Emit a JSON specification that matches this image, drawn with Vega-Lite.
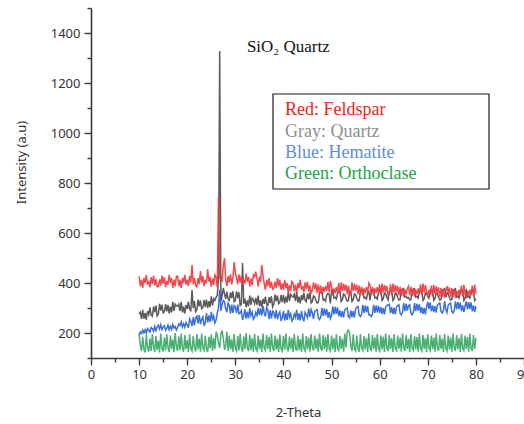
{
  "$schema": "https://vega.github.io/schema/vega-lite/v6.json",
  "width": 433,
  "height": 350,
  "autosize": {"type": "none"},
  "padding": {"left": 91, "top": 8, "right": 0, "bottom": 66},
  "background": "white",
  "config": {
    "view": {"stroke": null},
    "axis": {
      "domainColor": "#3a3a3a", "domainWidth": 1.6,
      "tickColor": "#3a3a3a", "tickWidth": 1.4,
      "labelFont": "Noto Sans", "labelFontSize": 13, "labelColor": "#333333",
      "titleFont": "Noto Sans", "titleFontSize": 13, "titleFontWeight": "normal", "titleColor": "#333333",
      "grid": false, "labelOverlap": false, "labelFlush": false
    }
  },
  "resolve": {"axis": {"x": "independent", "y": "independent"}},
  "layer": [
    {
      "data": {"values": [
{"t":10,"R":427,"Q":276,"H":190,"O":198},{"t":10.25,"R":387,"Q":283,"H":204,"O":150},{"t":10.5,"R":413,"Q":256,"H":198,"O":128},{"t":10.75,"R":380,"Q":293,"H":212,"O":185},
{"t":11,"R":420,"Q":257,"H":200,"O":135},{"t":11.25,"R":400,"Q":280,"H":213,"O":122},{"t":11.5,"R":433,"Q":253,"H":199,"O":192},{"t":11.75,"R":393,"Q":287,"H":218,"O":140},
{"t":12,"R":408,"Q":274,"H":211,"O":125},{"t":12.25,"R":383,"Q":302,"H":204,"O":178},{"t":12.5,"R":423,"Q":272,"H":222,"O":128},{"t":12.75,"R":397,"Q":267,"H":217,"O":196},
{"t":13,"R":430,"Q":306,"H":207,"O":145},{"t":13.25,"R":390,"Q":283,"H":226,"O":124},{"t":13.5,"R":415,"Q":310,"H":209,"O":188},{"t":13.75,"R":385,"Q":268,"H":224,"O":132},
{"t":14,"R":385,"Q":275,"H":231,"O":170},{"t":14.25,"R":415,"Q":317,"H":216,"O":122},{"t":14.5,"R":390,"Q":290,"H":233,"O":198},{"t":14.75,"R":430,"Q":313,"H":214,"O":138},
{"t":15,"R":397,"Q":280,"H":224,"O":126},{"t":15.25,"R":423,"Q":285,"H":229,"O":182},{"t":15.5,"R":383,"Q":315,"H":211,"O":130},{"t":15.75,"R":408,"Q":287,"H":218,"O":195},
{"t":16,"R":393,"Q":312,"H":232,"O":142},{"t":16.25,"R":433,"Q":278,"H":213,"O":124},{"t":16.5,"R":400,"Q":305,"H":227,"O":190},{"t":16.75,"R":420,"Q":282,"H":214,"O":135},
{"t":17,"R":380,"Q":325,"H":234,"O":175},{"t":17.25,"R":413,"Q":288,"H":220,"O":123},{"t":17.5,"R":387,"Q":315,"H":226,"O":200},{"t":17.75,"R":427,"Q":308,"H":212,"O":145},
{"t":18,"R":427,"Q":308,"H":222,"O":128},{"t":18.25,"R":387,"Q":315,"H":236,"O":186},{"t":18.5,"R":413,"Q":288,"H":230,"O":132},{"t":18.75,"R":380,"Q":325,"H":245,"O":198},
{"t":19,"R":420,"Q":282,"H":224,"O":140},{"t":19.25,"R":400,"Q":305,"H":237,"O":125},{"t":19.5,"R":433,"Q":278,"H":223,"O":192},{"t":19.75,"R":393,"Q":312,"H":242,"O":136},
{"t":20,"R":413,"Q":297,"H":234,"O":172},{"t":20.25,"R":388,"Q":325,"H":220,"O":124},{"t":20.5,"R":428,"Q":295,"H":257,"O":195},{"t":20.75,"R":402,"Q":290,"H":247,"O":138},
{"t":21,"R":472,"Q":372,"H":227,"O":128},{"t":21.25,"R":395,"Q":300,"H":264,"O":188},{"t":21.5,"R":420,"Q":327,"H":230,"O":142},{"t":21.75,"R":390,"Q":285,"H":260,"O":126},
{"t":22,"R":384,"Q":292,"H":268,"O":196},{"t":22.25,"R":420,"Q":334,"H":238,"O":134},{"t":22.5,"R":395,"Q":307,"H":272,"O":178},{"t":22.75,"R":448,"Q":330,"H":235,"O":125},
{"t":23,"R":402,"Q":297,"H":255,"O":198},{"t":23.25,"R":428,"Q":302,"H":265,"O":140},{"t":23.5,"R":388,"Q":332,"H":228,"O":130},{"t":23.75,"R":413,"Q":304,"H":242,"O":190},
{"t":24,"R":398,"Q":334,"H":280,"O":136},{"t":24.25,"R":455,"Q":300,"H":242,"O":124},{"t":24.5,"R":405,"Q":327,"H":270,"O":185},{"t":24.75,"R":425,"Q":304,"H":244,"O":138},
{"t":25,"R":385,"Q":347,"H":285,"O":195},{"t":25.25,"R":418,"Q":310,"H":255,"O":128},{"t":25.5,"R":392,"Q":337,"H":268,"O":180},{"t":25.75,"R":432,"Q":330,"H":240,"O":135},
{"t":26,"R":422,"Q":343,"H":252,"O":205},{"t":26.25,"R":382,"Q":350,"H":280,"O":190},{"t":26.5,"R":744,"Q":420,"H":300,"O":160},{"t":26.75,"R":420,"Q":1328,"H":372,"O":140},
{"t":27,"R":425,"Q":327,"H":289,"O":195},{"t":27.25,"R":405,"Q":350,"H":315,"O":210},{"t":27.5,"R":470,"Q":380,"H":330,"O":180},{"t":27.75,"R":500,"Q":357,"H":325,"O":132},
{"t":28,"R":413,"Q":337,"H":297,"O":150},{"t":28.25,"R":388,"Q":365,"H":283,"O":205},{"t":28.5,"R":428,"Q":335,"H":320,"O":128},{"t":28.75,"R":402,"Q":330,"H":310,"O":190},
{"t":29,"R":435,"Q":363,"H":277,"O":134},{"t":29.25,"R":395,"Q":340,"H":314,"O":175},{"t":29.5,"R":420,"Q":367,"H":280,"O":125},{"t":29.75,"R":484,"Q":325,"H":310,"O":196},
{"t":30,"R":440,"Q":330,"H":305,"O":138},{"t":30.25,"R":420,"Q":367,"H":280,"O":128},{"t":30.5,"R":395,"Q":340,"H":314,"O":188},{"t":30.75,"R":435,"Q":363,"H":277,"O":130},
{"t":31,"R":402,"Q":310,"H":280,"O":198},{"t":31.25,"R":428,"Q":315,"H":290,"O":142},{"t":31.5,"R":388,"Q":480,"H":253,"O":125},{"t":31.75,"R":413,"Q":317,"H":267,"O":186},
{"t":32,"R":398,"Q":337,"H":295,"O":135},{"t":32.25,"R":438,"Q":303,"H":257,"O":200},{"t":32.5,"R":405,"Q":330,"H":285,"O":140},{"t":32.75,"R":425,"Q":307,"H":259,"O":128},
{"t":33,"R":385,"Q":350,"H":300,"O":192},{"t":33.25,"R":418,"Q":313,"H":270,"O":132},{"t":33.5,"R":392,"Q":340,"H":283,"O":180},{"t":33.75,"R":432,"Q":333,"H":255,"O":124},
{"t":34,"R":425,"Q":318,"H":262,"O":196},{"t":34.25,"R":445,"Q":340,"H":283,"O":138},{"t":34.5,"R":418,"Q":313,"H":270,"O":128},{"t":34.75,"R":385,"Q":350,"H":300,"O":190},
{"t":35,"R":425,"Q":307,"H":272,"O":135},{"t":35.25,"R":405,"Q":330,"H":298,"O":175},{"t":35.5,"R":472,"Q":303,"H":270,"O":124},{"t":35.75,"R":430,"Q":337,"H":308,"O":198},
{"t":36,"R":398,"Q":317,"H":280,"O":140},{"t":36.25,"R":373,"Q":345,"H":266,"O":130},{"t":36.5,"R":413,"Q":315,"H":303,"O":192},{"t":36.75,"R":387,"Q":310,"H":293,"O":136},
{"t":37,"R":420,"Q":343,"H":255,"O":185},{"t":37.25,"R":380,"Q":320,"H":292,"O":125},{"t":37.5,"R":405,"Q":347,"H":258,"O":198},{"t":37.75,"R":375,"Q":305,"H":288,"O":142},
{"t":38,"R":380,"Q":315,"H":283,"O":128},{"t":38.25,"R":405,"Q":354,"H":258,"O":190},{"t":38.5,"R":380,"Q":327,"H":292,"O":134},{"t":38.75,"R":420,"Q":350,"H":255,"O":178},
{"t":39,"R":387,"Q":317,"H":275,"O":124},{"t":39.25,"R":413,"Q":322,"H":285,"O":195},{"t":39.5,"R":373,"Q":352,"H":248,"O":138},{"t":39.75,"R":398,"Q":324,"H":262,"O":128},
{"t":40,"R":373,"Q":352,"H":288,"O":188},{"t":40.25,"R":413,"Q":318,"H":250,"O":132},{"t":40.5,"R":380,"Q":345,"H":278,"O":198},{"t":40.75,"R":400,"Q":322,"H":252,"O":140},
{"t":41,"R":360,"Q":365,"H":293,"O":126},{"t":41.25,"R":393,"Q":328,"H":263,"O":186},{"t":41.5,"R":367,"Q":355,"H":276,"O":135},{"t":41.75,"R":407,"Q":348,"H":248,"O":180},
{"t":42,"R":400,"Q":343,"H":255,"O":124},{"t":42.25,"R":367,"Q":355,"H":276,"O":196},{"t":42.5,"R":393,"Q":328,"H":263,"O":140},{"t":42.75,"R":360,"Q":365,"H":293,"O":128},
{"t":43,"R":400,"Q":322,"H":252,"O":190},{"t":43.25,"R":380,"Q":345,"H":278,"O":132},{"t":43.5,"R":413,"Q":318,"H":250,"O":176},{"t":43.75,"R":373,"Q":352,"H":288,"O":124},
{"t":44,"R":388,"Q":332,"H":260,"O":198},{"t":44.25,"R":363,"Q":360,"H":246,"O":138},{"t":44.5,"R":403,"Q":330,"H":283,"O":128},{"t":44.75,"R":377,"Q":325,"H":273,"O":188},
{"t":45,"R":405,"Q":358,"H":261,"O":134},{"t":45.25,"R":365,"Q":335,"H":298,"O":182},{"t":45.5,"R":390,"Q":362,"H":264,"O":125},{"t":45.75,"R":360,"Q":320,"H":294,"O":196},
{"t":46,"R":372,"Q":325,"H":281,"O":142},{"t":46.25,"R":402,"Q":348,"H":256,"O":130},{"t":46.5,"R":375,"Q":345,"H":286,"O":190},{"t":46.75,"R":398,"Q":330,"H":291,"O":136},
{"t":47,"R":360,"Q":320,"H":294,"O":178},{"t":47.25,"R":395,"Q":322,"H":260,"O":124},{"t":47.5,"R":358,"Q":360,"H":254,"O":198},{"t":47.75,"R":390,"Q":362,"H":264,"O":140},
{"t":48,"R":355,"Q":365,"H":301,"O":128},{"t":48.25,"R":383,"Q":332,"H":268,"O":192},{"t":48.5,"R":365,"Q":335,"H":298,"O":135},{"t":48.75,"R":388,"Q":328,"H":271,"O":185},
{"t":49,"R":368,"Q":352,"H":296,"O":125},{"t":49.25,"R":405,"Q":358,"H":261,"O":196},{"t":49.5,"R":362,"Q":355,"H":284,"O":138},{"t":49.75,"R":408,"Q":318,"H":258,"O":128},
{"t":50,"R":385,"Q":370,"H":270,"O":190},{"t":50.25,"R":350,"Q":373,"H":307,"O":134},{"t":50.5,"R":378,"Q":340,"H":274,"O":180},{"t":50.75,"R":360,"Q":343,"H":304,"O":124},
{"t":51,"R":383,"Q":336,"H":277,"O":195},{"t":51.25,"R":363,"Q":360,"H":302,"O":140},{"t":51.5,"R":400,"Q":366,"H":267,"O":130},{"t":51.75,"R":357,"Q":363,"H":290,"O":188},
{"t":52,"R":403,"Q":326,"H":264,"O":136},{"t":52.25,"R":367,"Q":333,"H":287,"O":178},{"t":52.5,"R":397,"Q":356,"H":262,"O":125},{"t":52.75,"R":370,"Q":353,"H":292,"O":198},
{"t":53,"R":393,"Q":338,"H":297,"O":142},{"t":53.25,"R":355,"Q":328,"H":300,"O":205},{"t":53.5,"R":390,"Q":330,"H":266,"O":212},{"t":53.75,"R":353,"Q":368,"H":260,"O":200},
{"t":54,"R":357,"Q":363,"H":290,"O":150},{"t":54.25,"R":403,"Q":326,"H":264,"O":128},{"t":54.5,"R":367,"Q":333,"H":287,"O":195},{"t":54.75,"R":397,"Q":356,"H":262,"O":135},
{"t":55,"R":370,"Q":353,"H":298,"O":128},{"t":55.25,"R":393,"Q":338,"H":303,"O":190},{"t":55.5,"R":355,"Q":328,"H":306,"O":138},{"t":55.75,"R":390,"Q":330,"H":272,"O":125},
{"t":56,"R":353,"Q":368,"H":266,"O":196},{"t":56.25,"R":385,"Q":370,"H":276,"O":140},{"t":56.5,"R":350,"Q":373,"H":313,"O":130},{"t":56.75,"R":378,"Q":340,"H":280,"O":188},
{"t":57,"R":360,"Q":343,"H":310,"O":134},{"t":57.25,"R":383,"Q":336,"H":283,"O":180},{"t":57.5,"R":363,"Q":360,"H":308,"O":124},{"t":57.75,"R":400,"Q":366,"H":273,"O":198},
{"t":58,"R":390,"Q":330,"H":272,"O":140},{"t":58.25,"R":353,"Q":368,"H":266,"O":128},{"t":58.5,"R":385,"Q":370,"H":276,"O":192},{"t":58.75,"R":350,"Q":373,"H":313,"O":136},
{"t":59,"R":378,"Q":340,"H":280,"O":182},{"t":59.25,"R":360,"Q":343,"H":310,"O":125},{"t":59.5,"R":383,"Q":336,"H":283,"O":196},{"t":59.75,"R":363,"Q":360,"H":308,"O":138},
{"t":60,"R":395,"Q":370,"H":280,"O":128},{"t":60.25,"R":352,"Q":367,"H":303,"O":190},{"t":60.5,"R":398,"Q":330,"H":277,"O":134},{"t":60.75,"R":362,"Q":337,"H":300,"O":186},
{"t":61,"R":392,"Q":360,"H":275,"O":124},{"t":61.25,"R":365,"Q":357,"H":305,"O":198},{"t":61.5,"R":388,"Q":342,"H":310,"O":140},{"t":61.75,"R":350,"Q":332,"H":313,"O":128},
{"t":62,"R":358,"Q":364,"H":315,"O":192},{"t":62.25,"R":395,"Q":370,"H":280,"O":135},{"t":62.5,"R":352,"Q":367,"H":303,"O":180},{"t":62.75,"R":398,"Q":330,"H":277,"O":124},
{"t":63,"R":362,"Q":337,"H":300,"O":196},{"t":63.25,"R":392,"Q":360,"H":275,"O":138},{"t":63.5,"R":365,"Q":357,"H":305,"O":130},{"t":63.75,"R":388,"Q":342,"H":310,"O":190},
{"t":64,"R":350,"Q":332,"H":313,"O":136},{"t":64.25,"R":385,"Q":334,"H":279,"O":182},{"t":64.5,"R":348,"Q":372,"H":273,"O":125},{"t":64.75,"R":380,"Q":374,"H":283,"O":198},
{"t":65,"R":345,"Q":377,"H":320,"O":142},{"t":65.25,"R":373,"Q":344,"H":287,"O":128},{"t":65.5,"R":355,"Q":347,"H":317,"O":192},{"t":65.75,"R":378,"Q":340,"H":290,"O":135},
{"t":66,"R":388,"Q":342,"H":310,"O":178},{"t":66.25,"R":350,"Q":332,"H":313,"O":124},{"t":66.5,"R":385,"Q":334,"H":279,"O":196},{"t":66.75,"R":348,"Q":372,"H":273,"O":140},
{"t":67,"R":380,"Q":374,"H":283,"O":130},{"t":67.25,"R":345,"Q":377,"H":320,"O":188},{"t":67.5,"R":373,"Q":344,"H":287,"O":134},{"t":67.75,"R":355,"Q":347,"H":317,"O":184},
{"t":68,"R":378,"Q":340,"H":290,"O":125},{"t":68.25,"R":358,"Q":364,"H":315,"O":198},{"t":68.5,"R":395,"Q":370,"H":280,"O":138},{"t":68.75,"R":352,"Q":367,"H":303,"O":128},
{"t":69,"R":398,"Q":330,"H":277,"O":192},{"t":69.25,"R":362,"Q":337,"H":300,"O":136},{"t":69.5,"R":392,"Q":360,"H":275,"O":180},{"t":69.75,"R":365,"Q":357,"H":305,"O":124},
{"t":70,"R":350,"Q":347,"H":324,"O":196},{"t":70.25,"R":373,"Q":340,"H":297,"O":140},{"t":70.5,"R":353,"Q":364,"H":322,"O":130},{"t":70.75,"R":390,"Q":370,"H":287,"O":190},
{"t":71,"R":347,"Q":367,"H":310,"O":135},{"t":71.25,"R":393,"Q":330,"H":284,"O":182},{"t":71.5,"R":357,"Q":337,"H":307,"O":125},{"t":71.75,"R":387,"Q":360,"H":282,"O":198},
{"t":72,"R":360,"Q":357,"H":312,"O":142},{"t":72.25,"R":383,"Q":342,"H":317,"O":128},{"t":72.5,"R":345,"Q":332,"H":320,"O":192},{"t":72.75,"R":380,"Q":334,"H":286,"O":136},
{"t":73,"R":343,"Q":372,"H":280,"O":178},{"t":73.25,"R":375,"Q":374,"H":290,"O":124},{"t":73.5,"R":340,"Q":377,"H":327,"O":196},{"t":73.75,"R":368,"Q":344,"H":294,"O":138},
{"t":74,"R":387,"Q":360,"H":282,"O":128},{"t":74.25,"R":360,"Q":357,"H":312,"O":190},{"t":74.5,"R":383,"Q":342,"H":317,"O":134},{"t":74.75,"R":345,"Q":332,"H":320,"O":182},
{"t":75,"R":380,"Q":334,"H":286,"O":125},{"t":75.25,"R":343,"Q":372,"H":280,"O":198},{"t":75.5,"R":375,"Q":374,"H":290,"O":140},{"t":75.75,"R":340,"Q":377,"H":327,"O":128},
{"t":76,"R":368,"Q":344,"H":294,"O":192},{"t":76.25,"R":350,"Q":347,"H":324,"O":135},{"t":76.5,"R":373,"Q":340,"H":297,"O":180},{"t":76.75,"R":353,"Q":364,"H":322,"O":124},
{"t":77,"R":390,"Q":370,"H":287,"O":196},{"t":77.25,"R":347,"Q":367,"H":310,"O":138},{"t":77.5,"R":393,"Q":330,"H":284,"O":130},{"t":77.75,"R":357,"Q":337,"H":307,"O":190},
{"t":78,"R":340,"Q":377,"H":327,"O":136},{"t":78.25,"R":368,"Q":344,"H":294,"O":184},{"t":78.5,"R":350,"Q":347,"H":324,"O":125},{"t":78.75,"R":373,"Q":340,"H":297,"O":198},
{"t":79,"R":353,"Q":364,"H":322,"O":140},{"t":79.25,"R":390,"Q":370,"H":287,"O":128},{"t":79.5,"R":347,"Q":367,"H":310,"O":192},{"t":79.75,"R":393,"Q":330,"H":284,"O":135},
{"t":80,"R":357,"Q":337,"H":307,"O":180}
      ]},
      "transform": [{"fold": ["Q", "H", "O", "R"], "as": ["series", "v"]}],
      "mark": {"type": "line", "strokeWidth": 1.5, "opacity": 0.92},
      "encoding": {
        "x": {
          "field": "t", "type": "quantitative",
          "scale": {"domain": [0, 90], "nice": false, "zero": false},
          "axis": {
            "title": "2-Theta",
            "values": [0,5,10,15,20,25,30,35,40,45,50,55,60,65,70,75,80,85,90],
            "labelExpr": "datum.value % 10 === 0 ? datum.label : ''",
            "tickSize": {"condition": {"test": "datum.value % 10 !== 0", "value": 4}, "value": 7},
            "labelPadding": 3,
            "titleX": 207, "titleY": 48, "titleBaseline": "top"
          }
        },
        "y": {
          "field": "v", "type": "quantitative",
          "scale": {"domain": [100, 1500], "nice": false, "zero": false},
          "axis": {
            "title": "Intensity (a.u)",
            "format": "d",
            "values": [100,200,300,400,500,600,700,800,900,1000,1100,1200,1300,1400,1500],
            "labelExpr": "datum.value % 200 === 0 ? datum.label : ''",
            "tickSize": {"condition": {"test": "datum.value % 200 !== 0", "value": 4}, "value": 7},
            "labelPadding": 4,
            "titleX": -70, "titleY": 154, "titleAngle": -90, "titleAlign": "center", "titleBaseline": "middle"
          }
        },
        "color": {
          "field": "series", "type": "nominal",
          "scale": {"domain": ["Q", "H", "O", "R"], "range": ["#4d4d4d", "#2a63d8", "#3aa867", "#ee3b40"]},
          "legend": null
        }
      }
    },
    {
      "data": {"values": [{}]},
      "mark": {"type": "rect", "fill": "transparent", "stroke": "#1a1a1a", "strokeWidth": 1.2},
      "encoding": {
        "x": {"datum": 37.83, "type": "quantitative", "axis": null},
        "x2": {"datum": 82.73},
        "y": {"datum": 1156, "type": "quantitative", "axis": null},
        "y2": {"datum": 776}
      }
    },
    {
      "data": {"values": [{}]},
      "mark": {"type": "text", "text": "SiO₂ Quartz", "font": "Liberation Serif", "fontSize": 17, "color": "#111111", "align": "left", "baseline": "alphabetic"},
      "encoding": {"x": {"datum": 32.4, "type": "quantitative", "axis": null}, "y": {"datum": 1324, "type": "quantitative", "axis": null}}
    },
    {
      "data": {"values": [{}]},
      "mark": {"type": "text", "text": "Red: Feldspar", "font": "Liberation Serif", "fontSize": 18, "color": "#f21c1c", "align": "left", "baseline": "alphabetic"},
      "encoding": {"x": {"datum": 40.32, "type": "quantitative", "axis": null}, "y": {"datum": 1072, "type": "quantitative", "axis": null}}
    },
    {
      "data": {"values": [{}]},
      "mark": {"type": "text", "text": "Gray: Quartz", "font": "Liberation Serif", "fontSize": 18, "color": "#8f8f8f", "align": "left", "baseline": "alphabetic"},
      "encoding": {"x": {"datum": 40.32, "type": "quantitative", "axis": null}, "y": {"datum": 984, "type": "quantitative", "axis": null}}
    },
    {
      "data": {"values": [{}]},
      "mark": {"type": "text", "text": "Blue: Hematite", "font": "Liberation Serif", "fontSize": 18, "color": "#5b8fdc", "align": "left", "baseline": "alphabetic"},
      "encoding": {"x": {"datum": 40.32, "type": "quantitative", "axis": null}, "y": {"datum": 900, "type": "quantitative", "axis": null}}
    },
    {
      "data": {"values": [{}]},
      "mark": {"type": "text", "text": "Green: Orthoclase", "font": "Liberation Serif", "fontSize": 18, "color": "#19a54c", "align": "left", "baseline": "alphabetic"},
      "encoding": {"x": {"datum": 40.32, "type": "quantitative", "axis": null}, "y": {"datum": 816, "type": "quantitative", "axis": null}}
    }
  ]
}
